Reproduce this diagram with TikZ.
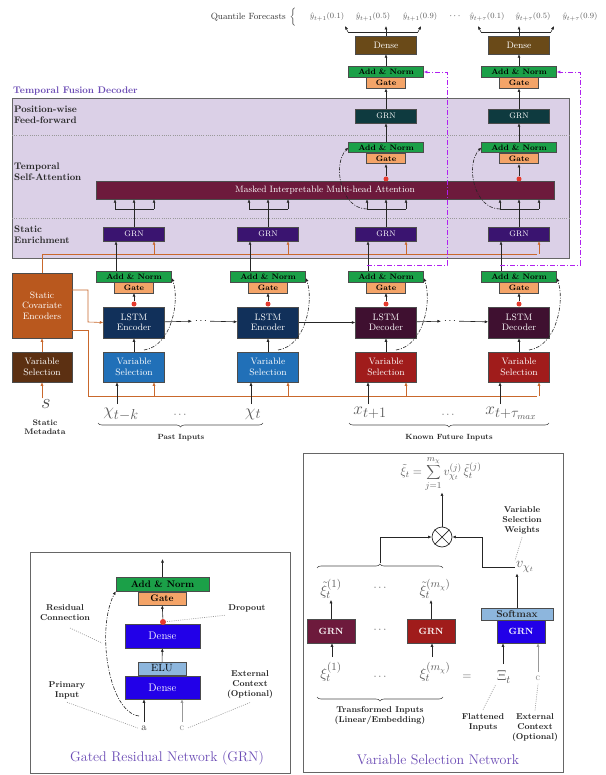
\documentclass[tikz,border=0pt]{standalone}
\usetikzlibrary{arrows.meta,calc,decorations.pathreplacing}
\definecolor{angreen}{HTML}{1BA048}
\definecolor{gateor}{HTML}{F4A468}
\definecolor{segrn}{HTML}{3A1470}
\definecolor{pwgrn}{HTML}{0E3A3F}
\definecolor{densebr}{HTML}{6A4A18}
\definecolor{attn}{HTML}{6D1A3C}
\definecolor{lenc}{HTML}{11305A}
\definecolor{ldec}{HTML}{3F1030}
\definecolor{vspast}{HTML}{2170B8}
\definecolor{vsfut}{HTML}{A01C1B}
\definecolor{scec}{HTML}{B9581E}
\definecolor{vsstat}{HTML}{5C3012}
\definecolor{decfill}{HTML}{DBD0E7}
\definecolor{orl}{HTML}{C9682C}
\definecolor{purl}{HTML}{B020F0}
\definecolor{titlec}{HTML}{6B4BB5}
\definecolor{bluegrn}{HTML}{2200E8}
\definecolor{lightb}{HTML}{8DB6DD}
\definecolor{redot}{HTML}{E53B2E}
\begin{document}
\begin{tikzpicture}[x=1pt,y=-1pt,
 blk/.style={draw=black!70, line width=0.5pt, inner sep=0pt, align=center, text=white, font=\fontsize{9.3}{10.3}\selectfont},
 annode/.style={blk, fill=angreen, text=black, minimum width=75pt, minimum height=10.5pt, font=\bfseries\fontsize{7.8}{9}\selectfont},
 gatenode/.style={blk, fill=gateor, text=black, minimum width=39pt, minimum height=10.5pt, font=\bfseries\fontsize{7.8}{9}\selectfont},
 grnnode/.style={blk, minimum width=61pt, minimum height=14pt, font=\fontsize{8}{9}\selectfont},
 colbox/.style={blk, minimum width=61pt, minimum height=30pt},
 arr/.style={-{Latex[length=3.5pt,width=3pt]}, line width=0.6pt, draw=black!85},
 garr/.style={-{Latex[length=3.5pt,width=3pt]}, line width=0.6pt, draw=black!40},
 oarr/.style={-{Latex[length=3.5pt,width=3pt]}, line width=0.6pt, draw=orl},
 oline/.style={line width=0.6pt, draw=orl},
 ln/.style={line width=0.6pt, draw=black!85},
 dd/.style={line width=0.6pt, draw=black!85, dash pattern=on 3.5pt off 1.5pt on 1pt off 1.5pt, -{Latex[length=3.5pt,width=3pt]}},
 pdd/.style={line width=0.7pt, draw=purl, dash pattern=on 5pt off 2pt on 1pt off 2pt, -{Latex[length=3.5pt,width=3pt]}},
 dotl/.style={draw=black!40, line width=0.6pt, dash pattern=on 1pt off 1.2pt},
 rdot/.style={circle, fill=redot, inner sep=0pt, minimum size=5pt},
 lab/.style={font=\bfseries\fontsize{7.5}{8.5}\selectfont, align=center, text=black!85},
 llab/.style={font=\bfseries\fontsize{9.5}{11}\selectfont, align=left, anchor=north west, inner sep=0pt, text=black!85},
 plab/.style={font=\bfseries\fontsize{8.5}{10}\selectfont, align=center, text=black!85},
 ttl/.style={font=\fontsize{14}{16}\selectfont, text=titlec},
 mth/.style={text=black!65, inner sep=1pt}
]
\useasboundingbox (0,0) rectangle (605,775);
\fill[white] (0,0) rectangle (605,775);

% ---------- Temporal fusion decoder box ----------
\node[draw=black!60, line width=0.8pt, fill=decfill, minimum width=557pt, minimum height=160pt, anchor=north west, inner sep=0pt] (tfd) at (12,98) {};
\node[anchor=west, inner sep=0pt, font=\bfseries\fontsize{9.6}{11}\selectfont, text=titlec] (tfdl) at (13,91) {Temporal Fusion Decoder};
\coordinate (s1l) at (12,135); \coordinate (s1r) at (569,135);
\coordinate (s2l) at (12,218); \coordinate (s2r) at (569,218);
\draw[dotl] (s1l) -- (s1r);
\draw[dotl] (s2l) -- (s2r);
\node[llab] (lpw) at (14,106) {Position-wise\\Feed-forward};
\node[llab] (lta) at (14,163) {Temporal\\Self-Attention};
\node[llab] (lse) at (14,226) {Static\\Enrichment};

\node[blk, fill=attn, minimum width=458pt, minimum height=18pt, font=\fontsize{9.2}{10}\selectfont] (att) at (325,190) {Masked Interpretable Multi-head Attention};

% ---------- static covariates ----------
\node[blk, fill=scec, minimum width=60pt, minimum height=65pt] (sce) at (42,305.5) {Static\\Covariate\\Encoders};
\node[colbox, fill=vsstat, minimum width=60pt] (vss) at (42,367) {Variable\\Selection};
\node[mth, font=\fontsize{20}{20}\selectfont, text=black!70] (sm) at (46,404) {$s$};
\node[lab, font=\bfseries\fontsize{8}{9}\selectfont] (sml) at (45,427) {Static\\Metadata};
\draw[oarr] (vss.south |- sm.north) -- (vss.south);
\draw[oarr] (vss) -- (sce);
\coordinate (o1) at (42,254); \coordinate (o2) at (537,254);
\draw[oline] (sce.north) -- (o1) -- (o2);
\coordinate (o3) at (72,290); \coordinate (o4) at (88,290); \coordinate (o5) at (88,322);
\coordinate (o6) at (72,330); \coordinate (o7) at (88,330); \coordinate (o8) at (88,396); \coordinate (o9) at (537,396);
\draw[oline] (o6) -- (o7) -- (o8) -- (o9);

% ---------- columns ----------
\foreach \i/\x/\ix/\lc/\vc/\lt in {1/134/117/lenc/vspast/Encoder, 2/268/251/lenc/vspast/Encoder, 3/386/368/ldec/vsfut/Decoder, 4/519/500/ldec/vsfut/Decoder}{
  \node[annode] (an1\i) at (\x,276.5) {Add \& Norm};
  \node[gatenode] (ga1\i) at (\x,287.5) {Gate};
  \node[colbox, fill=\lc, minimum height=31pt] (ls\i) at (\x,322.5) {LSTM\\\lt};
  \node[colbox, fill=\vc] (vs\i) at (\x,367) {Variable\\Selection};
  \node[rdot] (rd1\i) at (\x,304) {};
  \node[grnnode, fill=segrn] (se\i) at (\x,234) {GRN};
  \draw[arr] (vs\i) -- (ls\i);
  \draw[arr] (rd1\i) -- (ga1\i);
  \coordinate (up\i) at (\x-18,271);
  \draw[arr] (up\i) -- (up\i |- se\i.south);
  \coordinate (oc\i) at (\x+20,254);
  \draw[oarr] (oc\i) -- (oc\i |- se\i.south);
  \coordinate (ov\i) at (\x+20,396);
  \draw[oarr] (ov\i) -- (ov\i |- vs\i.south);
  \coordinate (in\i) at (\ix,404);
  \draw[arr] (in\i) -- (in\i |- vs\i.south);
  \coordinate (fan\i) at (\x,209);
  \coordinate (fl\i) at (\x-19,209);
  \coordinate (fr\i) at (\x+20,209);
  \draw[ln] (se\i) -- (fan\i);
  \draw[ln] (fl\i) -- (fr\i);
  \draw[arr] (fl\i) -- (fl\i |- att.south);
  \draw[arr] (fan\i) -- (fan\i |- att.south);
  \draw[arr] (fr\i) -- (fr\i |- att.south);
  \coordinate (lc\i) at (\x+10,350);
  \draw[dd] (lc\i) .. controls (\x+38,346) and (\x+46,300) .. ([yshift=-1.5pt]an1\i.east);
}
\draw[oarr] (o3) -- (o4) -- (o5) -- (ls1.west);

% horizontal LSTM chain
\node[inner sep=3pt, font=\fontsize{10}{10}\selectfont] (hd1) at (201,321) {$\cdots$};
\node[inner sep=3pt, font=\fontsize{10}{10}\selectfont] (hd2) at (450,321) {$\cdots$};
\draw[arr] (ls1) -- (hd1);
\draw[arr] (hd1) -- (ls2);
\draw[arr] (ls2) -- (ls3);
\draw[arr] (ls3) -- (hd2);
\draw[arr] (hd2) -- (ls4);

% decoder-only columns
\foreach \i/\x in {3/386, 4/519}{
  \node[rdot] (rd2\i) at (\x,179) {};
  \node[gatenode] (ga2\i) at (\x,158.5) {Gate};
  \node[annode] (an2\i) at (\x,147.5) {Add \& Norm};
  \node[grnnode, fill=pwgrn] (pw\i) at (\x,116) {GRN};
  \node[gatenode] (ga3\i) at (\x,83) {Gate};
  \node[annode] (an3\i) at (\x,72) {Add \& Norm};
  \node[blk, fill=densebr, minimum width=61pt, minimum height=18pt] (de\i) at (\x,45) {Dense};
  \draw[arr] (rd2\i) -- (ga2\i);
  \draw[arr] (an2\i) -- (pw\i);
  \draw[arr] (pw\i) -- (ga3\i);
  \draw[arr] (an3\i) -- (de\i);
  \draw[dd] (fl\i) .. controls (\x-45,209) and (\x-54,165) .. (an2\i.west);
  \coordinate (pa\i) at (\x-19,265);
  \coordinate (pb\i) at (\x+61,265);
  \coordinate (pc\i) at (\x+61,72);
  \draw[pdd] (pa\i) -- (pb\i) -- (pc\i) -- (an3\i.east);
  \coordinate (dt\i) at (\x,32);
  \coordinate (dl\i) at (\x-38,32);
  \coordinate (dr\i) at (\x+32,32);
  \coordinate (tl\i) at (\x-41,26);
  \coordinate (tm\i) at (\x,26);
  \coordinate (tr\i) at (\x+35,26);
  \draw[ln] (de\i) -- (dt\i);
  \draw[ln] (dl\i) -- (dr\i);
  \draw[arr] (dl\i) -- (tl\i);
  \draw[arr] (dt\i) -- (tm\i);
  \draw[arr] (dr\i) -- (tr\i);
}

% forecasts
\node[anchor=east, inner sep=0pt, font=\fontsize{9}{10}\selectfont, text=black!80] (qf) at (286,17) {Quantile Forecasts};
\node[mth, inner sep=0pt, font=\fontsize{8}{8}\selectfont, text=black!75] (qb) at (293,17) {$\Big\{$};
\foreach \n/\xx/\s/\q in {a/327/{t+1}/0.1, b/373/{t+1}/0.5, c/420/{t+1}/0.9, d/487/{t+\tau}/0.1, e/533/{t+\tau}/0.5, f/580/{t+\tau}/0.9}{
  \node[mth, font=\fontsize{8.5}{10}\selectfont] (q\n) at (\xx,17) {$\hat{y}_{\s}(\q)$};
}
\node[mth, font=\fontsize{9}{9}\selectfont, text=black] (qd) at (455,16) {$\cdots$};

% inputs
\node[mth, font=\fontsize{19}{19}\selectfont] (xa) at (121,414) {$\chi_{t-k}$};
\node[mth, font=\fontsize{11}{11}\selectfont] (xd1) at (180,415) {$\cdots$};
\node[mth, font=\fontsize{19}{19}\selectfont] (xb) at (253,414) {$\chi_{t}$};
\node[mth, font=\fontsize{19}{19}\selectfont] (xc) at (370,413) {$x_{t+1}$};
\node[mth, font=\fontsize{11}{11}\selectfont] (xd2) at (448,415) {$\cdots$};
\node[mth, font=\fontsize{19}{19}\selectfont] (xe) at (511,413) {$x_{t+\tau_{max}}$};
\coordinate (b1r) at (263,423); \coordinate (b1l) at (98,423);
\coordinate (b2r) at (549,423); \coordinate (b2l) at (349,423);
\draw[decorate, decoration={brace, amplitude=4pt}, line width=0.6pt, black!70] (b1r) -- (b1l);
\draw[decorate, decoration={brace, amplitude=4pt}, line width=0.6pt, black!70] (b2r) -- (b2l);
\node[lab] (pil) at (181,438) {Past Inputs};
\node[lab] (kfl) at (449,438) {Known Future Inputs};

% ---------- GRN panel ----------
\node[draw=black!60, line width=0.8pt, minimum width=260pt, minimum height=221pt, anchor=north west, inner sep=0pt] (grnp) at (30,552) {};
\node[blk, fill=angreen, text=black, minimum width=93pt, minimum height=14pt, font=\bfseries\fontsize{9.5}{11}\selectfont] (gan) at (162.5,584) {Add \& Norm};
\node[blk, fill=gateor, text=black, minimum width=48pt, minimum height=13pt, font=\bfseries\fontsize{9.5}{11}\selectfont] (ggate) at (162,598.5) {Gate};
\node[blk, fill=bluegrn, minimum width=75pt, minimum height=24pt, font=\fontsize{11}{12}\selectfont] (gd1) at (162.5,636) {Dense};
\node[blk, fill=lightb, text=black, minimum width=48pt, minimum height=13pt, font=\fontsize{10.5}{12}\selectfont] (gelu) at (162,668.5) {ELU};
\node[blk, fill=bluegrn, minimum width=75pt, minimum height=23pt, font=\fontsize{11}{12}\selectfont] (gd2) at (162.5,687.5) {Dense};
\node[rdot, minimum size=6pt] (gdot) at (163,622) {};
\node[text=black!75, font=\fontsize{10.5}{10}\selectfont] (ga) at (144,728) {a};
\node[text=black!45, font=\fontsize{10.5}{10}\selectfont] (gc) at (182,728) {c};
\coordinate (gout) at (162.5,559);
\draw[arr] (gan) -- (gout);
\draw[arr] (gdot) -- (ggate);
\draw[arr] (gelu) -- (gd1);
\draw[arr] (ga) -- (ga |- gd2.south);
\draw[garr] (gc) -- (gc |- gd2.south);
\coordinate (gres) at (139,716);
\draw[dd] (gres) .. controls (108,712) and (96,628) .. (gan.south west);
\node[plab] (lrc) at (65,613) {Residual\\Connection};
\node[plab] (ldo) at (247,608) {Dropout};
\node[plab] (lpi) at (67,690) {Primary\\Input};
\node[plab] (lec) at (250,685) {External\\Context\\(Optional)};
\coordinate (rc1) at (70,628); \coordinate (rc2) at (102,643);
\draw[dotl] (rc1) -- (rc2);
\draw[dotl] (ldo.south west) -- (gdot);
\draw[dotl] (lpi.south) -- (ga.west);
\draw[dotl] (lec.south) -- (gc.east);
\node[ttl] (gttl) at (167,758) {Gated Residual Network (GRN)};

% ---------- VSN panel ----------
\node[draw=black!60, line width=0.8pt, minimum width=260pt, minimum height=319pt, anchor=north west, inner sep=0pt] (vsnp) at (303,453) {};
\node[mth, font=\fontsize{13}{15}\selectfont] (form) at (441,474) {$\displaystyle \tilde{\xi}_t=\sum_{j=1}^{m_\chi} v_{\chi_t}^{(j)}\,\tilde{\xi}_t^{(j)}$};
\node[circle, draw=black!85, line width=0.7pt, minimum size=20pt, inner sep=0pt] (otm) at (442,537) {};
\draw[line width=0.7pt, black!85] (otm.north west) -- (otm.south east);
\draw[line width=0.7pt, black!85] (otm.north east) -- (otm.south west);
\draw[arr] (otm) -- (otm |- form.south);
\node[mth, font=\fontsize{15}{15}\selectfont] (tx1) at (331,589) {$\tilde{\xi}_t^{(1)}$};
\node[mth, font=\fontsize{11}{11}\selectfont] (txd) at (380,588) {$\cdots$};
\node[mth, font=\fontsize{15}{15}\selectfont] (txm) at (435,589) {$\tilde{\xi}_t^{(m_\chi)}$};
\coordinate (ub1) at (317,568); \coordinate (ub2) at (443,568);
\draw[decorate, decoration={brace, amplitude=4pt}, line width=0.6pt, black!70] (ub1) -- (ub2);
\coordinate (ubt) at (380,563); \coordinate (ubc) at (380,537);
\draw[arr] (ubt) -- (ubc) -- (otm.west);
\node[blk, fill=attn, minimum width=48pt, minimum height=24pt, font=\bfseries\fontsize{9}{10}\selectfont] (vg1) at (331,631) {GRN};
\node[mth, font=\fontsize{11}{11}\selectfont] (vgd) at (380,630) {$\cdots$};
\node[blk, fill=vsfut, minimum width=48pt, minimum height=24pt, font=\bfseries\fontsize{9}{10}\selectfont] (vgm) at (431,631) {GRN};
\node[blk, fill=lightb, text=black!85, minimum width=72pt, minimum height=12pt, font=\bfseries\fontsize{10}{11}\selectfont] (smx) at (517,614) {Softmax};
\node[blk, fill=bluegrn, minimum width=48pt, minimum height=23pt, font=\bfseries\fontsize{9}{10}\selectfont] (vgs) at (521,631.5) {GRN};
\node[mth, font=\fontsize{15}{15}\selectfont] (xi1) at (331,672) {$\xi_t^{(1)}$};
\node[mth, font=\fontsize{11}{11}\selectfont] (xid) at (380,677) {$\cdots$};
\node[mth, font=\fontsize{15}{15}\selectfont] (xim) at (435,672) {$\xi_t^{(m_\chi)}$};
\node[mth, font=\fontsize{12}{12}\selectfont] (eqs) at (467,677) {$=$};
\node[mth, font=\fontsize{15}{15}\selectfont] (bxi) at (504,677) {$\Xi_t$};
\node[text=black!45, font=\fontsize{10.5}{10}\selectfont] (vc) at (538,678) {c};
\node[mth, font=\fontsize{15}{15}\selectfont] (vw) at (525,567) {$v_{\chi_t}$};
\coordinate (vj) at (482,567); \coordinate (vk) at (482,537);
\draw[arr] (vw.west) -- (vj) -- (vk) -- (otm.east);
\draw[arr] (vg1) -- (vg1 |- tx1.south);
\draw[arr] (vgm) -- (vgm |- txm.south);
\coordinate (xi1t) at (332,657); \coordinate (ximt) at (432,657);
\draw[arr] (xi1t) -- (xi1t |- vg1.south);
\draw[arr] (ximt) -- (ximt |- vgm.south);
\coordinate (bxt) at (503,664);
\draw[arr] (bxt) -- (bxt |- vgs.south);
\draw[garr] (vc) -- (vc |- vgs.south);
\coordinate (smt) at (517,608);
\draw[arr] (smt) -- (smt |- vw.south);
\coordinate (lb1) at (443,697); \coordinate (lb2) at (317,697);
\draw[decorate, decoration={brace, amplitude=4pt}, line width=0.6pt, black!70] (lb1) -- (lb2);
\node[plab] (tri) at (380,716) {Transformed Inputs\\(Linear/Embedding)};
\node[plab] (vsw) at (522,520) {Variable\\Selection\\Weights};
\node[plab] (fli) at (483,722) {Flattened\\Inputs};
\node[plab] (vec) at (535,728) {External\\Context\\(Optional)};
\draw[dotl] (vsw.south) -- (vw.north west);
\draw[dotl] (fli.north) -- (bxi.south west);
\draw[dotl] (vec.north) -- (vc.south);
\node[ttl] (vttl) at (438,760) {Variable Selection Network};
\end{tikzpicture}
\end{document}
